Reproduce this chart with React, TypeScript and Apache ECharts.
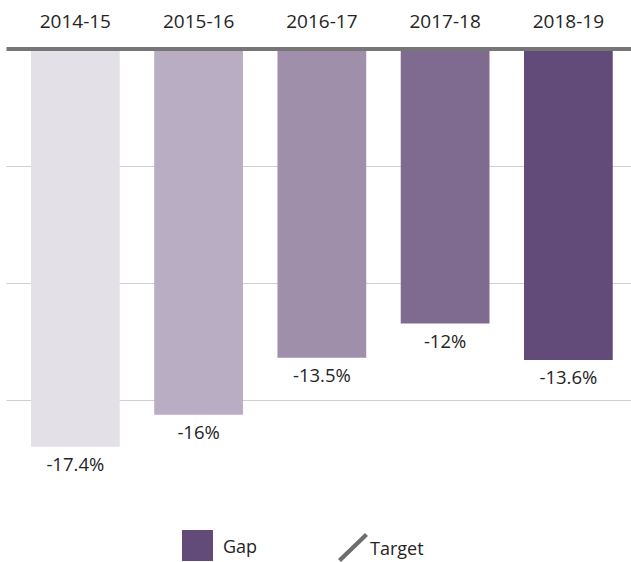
import React, { useEffect, useRef } from "react";
import * as echarts from "echarts";

const categories = ["2014-15", "2015-16", "2016-17", "2017-18", "2018-19"];
const gapValues = [-17.4, -16, -13.5, -12, -13.6];
const barColors = ["#e4e0e7", "#b9adc3", "#a08fab", "#806b90", "#624b78"];
const targetValue = 0;

const FONT = "'Open Sans', 'Noto Sans', sans-serif";
const TEXT = "#252423";

export default function App() {
  const ref = useRef<HTMLDivElement>(null);
  useEffect(() => {
    document.body.style.margin = "0";
    if (!ref.current) return;
    const chart = echarts.init(ref.current, null, { renderer: "svg" });
    chart.setOption({
      animation: false,
      backgroundColor: "#ffffff",
      textStyle: { fontFamily: FONT },
      grid: [
        { left: 6.5, right: 0, top: 48.5, height: 351.9 },
        { left: 13.7, right: 1, top: 49.5, height: 440 },
      ],
      legend: [
        {
          data: ["Gap"],
          left: 182,
          top: 530,
          padding: 0,
          itemWidth: 31,
          itemHeight: 31,
          icon: "rect",
          textStyle: { fontSize: 18, color: TEXT, fontFamily: FONT, padding: [0, 0, 0, 5] },
          selectedMode: false,
        },
        {
          data: [
            {
              name: "Target",
              icon: "path://M0,26 L27,0 L30,3 L3,29 Z",
              itemStyle: { color: "#6e6e6e", borderWidth: 0 },
            },
          ],
          left: 338,
          top: 533,
          padding: 0,
          itemWidth: 30,
          itemHeight: 29,
          textStyle: { fontSize: 18, color: TEXT, fontFamily: FONT, padding: [0, 0, 0, -3] },
          selectedMode: false,
        },
      ],
      xAxis: [
        { gridIndex: 0, type: "value", min: 0, max: 1, show: false },
        {
          gridIndex: 1,
          type: "category",
          data: categories,
          position: "top",
          axisLine: { show: false },
          axisTick: { show: false },
          axisLabel: { fontSize: 19, color: TEXT, fontFamily: FONT, margin: 19 },
        },
      ],
      yAxis: [
        {
          gridIndex: 0,
          type: "value",
          inverse: true,
          min: 0,
          max: 15,
          interval: 5,
          axisLabel: { show: false },
          axisLine: { show: false },
          axisTick: { show: false },
          splitLine: { show: true, lineStyle: { color: "#cfcfcf", width: 1 } },
        },
        {
          gridIndex: 1,
          type: "value",
          min: -19.27,
          max: 0,
          show: false,
          splitLine: { show: false },
        },
      ],
      series: [
        {
          name: "Gap",
          type: "bar",
          xAxisIndex: 1,
          yAxisIndex: 1,
          barCategoryGap: "28%",
          itemStyle: { color: "#624b78" },
          data: gapValues.map((v, i) => ({ value: v, itemStyle: { color: barColors[i] } })),
          label: {
            show: true,
            position: "bottom",
            distance: 7,
            fontSize: 18.5,
            color: TEXT,
            fontFamily: FONT,
            formatter: (p: any) => `${p.value}%`,
          },
          z: 2,
        },
        {
          name: "Target",
          type: "line",
          xAxisIndex: 0,
          yAxisIndex: 0,
          data: [],
          itemStyle: { color: "#6e6e6e" },
          markLine: {
            silent: true,
            symbol: "none",
            label: { show: false },
            lineStyle: { color: "#767676", width: 4, type: "solid" },
            data: [{ yAxis: targetValue }],
          },
          z: 5,
        },
      ],
    });
    return () => chart.dispose();
  }, []);
  return <div ref={ref} style={{ width: 631, height: 562 }} />;
}
